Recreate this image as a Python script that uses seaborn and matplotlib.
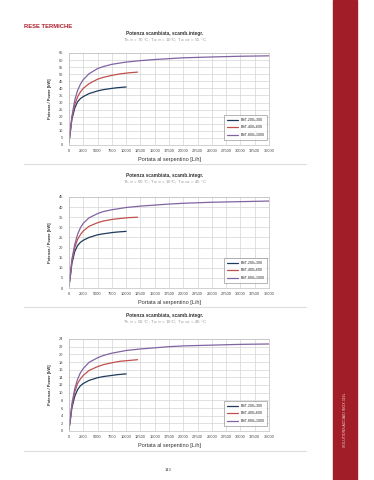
import pandas as pd
import matplotlib.pyplot as plt
import seaborn as sns

# flow rate points (L/h)
x_200 = [0, 250, 500, 1000, 1500, 2000, 2500, 3500, 5000, 6000, 7500, 8500, 10000]
x_400 = [0, 250, 500, 1000, 1500, 2000, 2500, 3500, 5000, 6000, 7500, 9000, 10500, 12000]
x_800 = [0, 250, 500, 1000, 1500, 2000, 2500, 3500, 5000, 6000, 7500, 10000, 12500,
         15000, 17500, 20000, 25000, 30000, 35000]

series_names = ["BST-200+300", "BST-400+600", "BST-800+1000"]

# chart 1: 70/10/55
p1_200 = [2, 10, 18, 26, 30.5, 32.8, 34.2, 36.3, 38.2, 39.1, 40, 40.5, 41]
p1_400 = [2, 10, 19, 28.5, 34, 37.5, 40, 43.3, 46.5, 47.8, 49.2, 50.3, 51, 51.5]
p1_800 = [2, 11, 20, 31.5, 38.5, 43, 46.2, 50.3, 54, 55.4, 57, 58.6, 59.6, 60.4, 61, 61.6, 62.2, 62.7, 63]

# chart 2: 60/10/45
p2_200 = [1, 6, 12, 18, 21, 22.6, 23.6, 25, 26.3, 26.8, 27.4, 27.7, 28]
p2_400 = [1, 7, 13, 20, 24, 26.4, 28.2, 30.5, 32.3, 33.1, 33.9, 34.4, 34.8, 35]
p2_800 = [1, 7, 14, 21.5, 26.5, 29.8, 32, 34.7, 36.8, 37.8, 38.7, 39.8, 40.5, 41, 41.5, 41.9, 42.4, 42.7, 43]

# chart 3: 50/10/40
p3_200 = [0.5, 3, 6, 9, 10.8, 11.8, 12.4, 13.2, 13.9, 14.2, 14.5, 14.7, 14.9]
p3_400 = [0.5, 3.5, 6.5, 10.2, 12.4, 13.6, 14.5, 15.8, 16.8, 17.3, 17.8, 18.2, 18.4, 18.6]
p3_800 = [0.5, 3.5, 7, 11, 13.5, 15.2, 16.3, 17.9, 19.1, 19.7, 20.3, 21, 21.4, 21.7, 22, 22.2, 22.4, 22.6, 22.7]

subtitles = [
    r"T$_{h,in}$ = 70 °C; T$_{w,in}$ = 10°C; T$_{w,out}$ = 55 °C",
    r"T$_{h,in}$ = 60 °C; T$_{w,in}$ = 10°C; T$_{w,out}$ = 45 °C",
    r"T$_{h,in}$ = 50 °C; T$_{w,in}$ = 10°C; T$_{w,out}$ = 40 °C",
]
y_max = [65, 45, 24]
y_step = [5, 5, 2]
x_ticks = list(range(0, 35001, 2500))

colors = ["#1f3a5c", "#c0504d", "#8064a2"]

sns.set_style("white")
plt.rcParams['font.family'] = ['Liberation Sans', 'DejaVu Sans']

fig = plt.figure(figsize=(3.74, 4.8), dpi=100)

# red side band
fig.patches.append(plt.Rectangle((333 / 374, 0), 24 / 374, 1, transform=fig.transFigure,
                                 color="#a11d27", zorder=0))
fig.text(345 / 374, 1 - 420 / 480, "SOLUTIONS ACCIAIO INOX 316L", rotation=90, color="#f2d6d6",
         fontsize=2.6, ha="center", va="center")
fig.text(24 / 374, 1 - 26 / 480, "RESE TERMICHE", color="#b0202c", fontsize=4.2,
         fontweight="bold", ha="left", va="center")
fig.text(168 / 374, 1 - 470 / 480, "143", color="#444444", fontsize=3, ha="center", va="center")

all_data = [(p1_200, p1_400, p1_800), (p2_200, p2_400, p2_800), (p3_200, p3_400, p3_800)]
axes_top = [53, 197, 339]
axes_bottom = [145, 288, 431]
title_y = [34, 176, 316]
sep_y = [164, 307, 451]

for i, (a, b, c) in enumerate(all_data):
    df = pd.concat([
        pd.DataFrame({"x": x_200, "y": a, "serie": series_names[0]}),
        pd.DataFrame({"x": x_400, "y": b, "serie": series_names[1]}),
        pd.DataFrame({"x": x_800, "y": c, "serie": series_names[2]}),
    ])
    top = 1 - axes_top[i] / 480
    bottom = 1 - axes_bottom[i] / 480
    ax = fig.add_axes([69 / 374, bottom, 200 / 374, top - bottom])
    sns.lineplot(data=df, x="x", y="y", hue="serie", palette=colors, linewidth=0.9,
                 ax=ax, legend=False)
    ax.set_xlim(0, 35000)
    ax.set_ylim(0, y_max[i])
    ax.set_xticks(x_ticks)
    ax.set_xticklabels([str(t) for t in x_ticks], fontsize=2.9, color="#444444")
    ax.set_yticks(list(range(0, y_max[i] + 1, y_step[i])))
    ax.tick_params(axis="y", labelsize=2.9, labelcolor="#444444", length=0, pad=4)
    ax.tick_params(axis="x", length=0, pad=3)
    ax.grid(True, color="#d4d4d4", linewidth=0.5)
    for s in ax.spines.values():
        s.set_color("#bfbfbf")
        s.set_linewidth(0.5)
    ax.set_xlabel("Portata al serpentino [L/h]", fontsize=4, color="#333333", labelpad=3)
    ax.set_ylabel("Potenza / Power [kW]", fontsize=2.9, color="#333333",
                  fontweight="bold", labelpad=5)
    handles = [plt.Line2D([], [], color=col, linewidth=0.9) for col in colors]
    leg = ax.legend(handles, series_names, loc="lower right", fontsize=2.6, frameon=True,
                    fancybox=False, borderpad=0.7, handlelength=3, labelspacing=1.0,
                    edgecolor="#7f7f7f", bbox_to_anchor=(1.0, 0.04))
    leg.get_frame().set_linewidth(0.5)

    fig.text(165 / 374, 1 - title_y[i] / 480, "Potenza scambiata, scamb.integr.",
             fontsize=3.4, color="#333333", fontweight="bold", ha="center", va="center")
    fig.text(165 / 374, 1 - (title_y[i] + 6) / 480, subtitles[i], fontsize=3.2,
             color="#999999", ha="center", va="center")
    fig.add_artist(plt.Line2D([24 / 374, 306 / 374], [1 - sep_y[i] / 480] * 2,
                              color="#dcdcdc", linewidth=0.8))

fig.savefig("out.png", dpi=100)
